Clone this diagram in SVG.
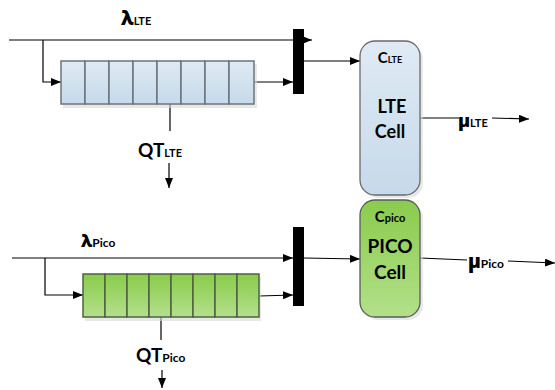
<svg xmlns="http://www.w3.org/2000/svg" width="555" height="390" viewBox="0 0 555 390">
<style>
text{font-family:Lato,"Liberation Sans",sans-serif;font-weight:bold;fill:#000}
.gr{font-family:"Open Sans","DejaVu Sans",sans-serif;font-weight:800}
.ln{stroke:#000;stroke-width:1.2;fill:none}
.qb{fill:url(#gb);stroke:#6b747c;stroke-width:1.5}
.qg{fill:url(#gg);stroke:#4f6140;stroke-width:1.5}
.bar{fill:#000}
.sh{fill:#d9d9d9;opacity:0.6}
</style>
<defs>
<linearGradient id="gb" x1="0" y1="0" x2="0" y2="1"><stop offset="0" stop-color="#dfeaf4"/><stop offset="1" stop-color="#c6d9ea"/></linearGradient>
<linearGradient id="gg" x1="0" y1="0" x2="0" y2="1"><stop offset="0" stop-color="#8acb4c"/><stop offset="1" stop-color="#b3e08a"/></linearGradient>
<marker id="ah" viewBox="0 0 10 8" refX="10" refY="4" markerWidth="10" markerHeight="8" markerUnits="userSpaceOnUse" orient="auto"><path d="M0,0 L10,4 L0,8 Z" fill="#000"/></marker>
</defs>

<g id="connectors">
<line class="ln" x1="9" y1="40" x2="312" y2="40" marker-end="url(#ah)"/>
<polyline class="ln" points="43,40 43,82 61,82" marker-end="url(#ah)"/>
<line class="ln" x1="254" y1="82" x2="293" y2="82" marker-end="url(#ah)"/>
<line class="ln" x1="304" y1="61" x2="360" y2="61" marker-end="url(#ah)"/>
<line class="ln" x1="170" y1="104" x2="170" y2="131"/>
<line class="ln" x1="169" y1="163" x2="169" y2="188" marker-end="url(#ah)"/>
<line class="ln" x1="420" y1="118" x2="459" y2="118"/>
<line class="ln" x1="492" y1="118" x2="529" y2="119" marker-end="url(#ah)"/>

<line class="ln" x1="12" y1="258" x2="293" y2="258" marker-end="url(#ah)"/>
<polyline class="ln" points="45,258 45,295 83,295" marker-end="url(#ah)"/>
<line class="ln" x1="259" y1="296" x2="293" y2="295" marker-end="url(#ah)"/>
<line class="ln" x1="304" y1="258" x2="360" y2="259" marker-end="url(#ah)"/>
<line class="ln" x1="161" y1="317" x2="161" y2="340"/>
<line class="ln" x1="162" y1="370" x2="162" y2="388" marker-end="url(#ah)"/>
<line class="ln" x1="420" y1="258" x2="467" y2="260"/>
<line class="ln" x1="508" y1="261" x2="555" y2="263" marker-end="url(#ah)"/>
</g>

<g id="bar-lte"><rect class="bar" x="293" y="29" width="11" height="65"/></g>
<g id="bar-pico"><rect class="bar" x="293" y="227" width="11" height="79"/></g>

<g id="queue-lte">
<rect class="sh" x="63" y="64" width="194" height="44"/>
<rect class="qb" x="61" y="61" width="24" height="43"/>
<rect class="qb" x="85" y="61" width="24" height="43"/>
<rect class="qb" x="109" y="61" width="24" height="43"/>
<rect class="qb" x="133" y="61" width="24" height="43"/>
<rect class="qb" x="157" y="61" width="24" height="43"/>
<rect class="qb" x="181" y="61" width="24" height="43"/>
<rect class="qb" x="205" y="61" width="24" height="43"/>
<rect class="qb" x="229" y="61" width="25" height="43"/>
</g>

<g id="queue-pico">
<rect class="sh" x="85" y="277" width="176" height="44"/>
<rect class="qg" x="83" y="274" width="22" height="43"/>
<rect class="qg" x="105" y="274" width="22" height="43"/>
<rect class="qg" x="127" y="274" width="22" height="43"/>
<rect class="qg" x="149" y="274" width="22" height="43"/>
<rect class="qg" x="171" y="274" width="22" height="43"/>
<rect class="qg" x="193" y="274" width="22" height="43"/>
<rect class="qg" x="215" y="274" width="22" height="43"/>
<rect class="qg" x="237" y="274" width="22" height="43"/>
</g>

<g id="lte-cell">
<rect class="sh" x="362" y="44" width="61" height="154" rx="15"/>
<rect x="360" y="41" width="60" height="154" rx="15" fill="url(#gb)" stroke="#6a6a6a" stroke-width="1.3"/>
<text x="390" y="63" text-anchor="middle" font-size="15">C<tspan font-size="9">LTE</tspan></text>
<text x="392" y="113" text-anchor="middle" font-size="18">LTE</text>
<text x="390" y="138" text-anchor="middle" font-size="18">Cell</text>
</g>

<g id="pico-cell">
<rect class="sh" x="362" y="203" width="61" height="117" rx="15"/>
<rect x="360" y="200" width="60" height="117" rx="15" fill="url(#gg)" stroke="#5a5a5a" stroke-width="1.3"/>
<text x="390" y="222" text-anchor="middle" font-size="15">C<tspan font-size="11">pico</tspan></text>
<text x="390" y="253" text-anchor="middle" font-size="19">PICO</text>
<text x="390" y="279" text-anchor="middle" font-size="19">Cell</text>
</g>

<g id="labels">
<text x="121" y="25" font-size="17"><tspan class="gr" font-size="19">λ</tspan><tspan font-size="11">LTE</tspan></text>
<text x="138" y="157" font-size="19">QT<tspan font-size="11">LTE</tspan></text>
<text x="458" y="127" font-size="15"><tspan class="gr" font-size="18">μ</tspan><tspan font-size="11">LTE</tspan></text>
<text x="81" y="247" font-size="15"><tspan class="gr" font-size="17">λ</tspan><tspan font-size="12">Pico</tspan></text>
<text x="136" y="362" font-size="19">QT<tspan font-size="12">Pico</tspan></text>
<text x="468" y="268" font-size="15"><tspan class="gr" font-size="19">μ</tspan><tspan font-size="12">Pico</tspan></text>
</g>
</svg>
